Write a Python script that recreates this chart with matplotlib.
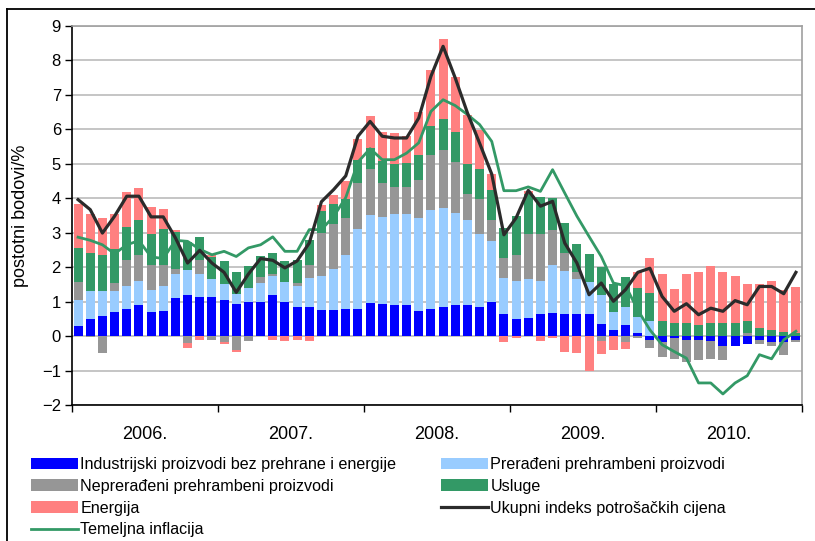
import numpy as np
import matplotlib.pyplot as plt
from matplotlib.lines import Line2D

plt.rcParams['font.family'] = ['Liberation Sans', 'DejaVu Sans']

# mjesečni doprinosi, 2006-01 .. 2010-12 (postotni bodovi)
years = ['2006.', '2007.', '2008.', '2009.', '2010.']
industrijski = [0.30, 0.50, 0.59, 0.71, 0.79, 0.91, 0.71, 0.74, 1.11, 1.20, 1.14, 1.14,
                1.06, 0.94, 1.00, 1.00, 1.20, 1.00, 0.85, 0.85, 0.76, 0.76, 0.79, 0.79,
                0.97, 0.94, 0.91, 0.91, 0.74, 0.79, 0.85, 0.91, 0.91, 0.85, 1.00, 0.65,
                0.50, 0.53, 0.65, 0.68, 0.65, 0.65, 0.65, 0.36, 0.18, 0.33, 0.10, -0.10,
                -0.17, -0.05, -0.10, -0.10, -0.13, -0.30, -0.30, -0.24, -0.10, -0.18, -0.18, -0.10]
preradjeni = [0.76, 0.82, 0.73, 0.61, 0.67, 0.70, 0.64, 0.72, 0.70, 0.73, 0.67, 0.52,
              0.46, 0.29, 0.41, 0.55, 0.55, 0.58, 0.61, 0.84, 0.99, 1.20, 1.57, 2.33,
              2.55, 2.53, 2.64, 2.64, 2.70, 2.88, 2.88, 2.67, 2.47, 2.12, 1.77, 1.04,
              1.11, 1.14, 0.96, 1.39, 1.25, 1.02, 0.93, 0.84, 0.53, 0.52, 0.46, 0.45,
              0.0, 0.0, 0.0, 0.0, 0.0, 0.0, 0.0, 0.0, 0.0, 0.0, 0.0, 0.0]
nepreradjeni = [0.52, -0.04, -0.50, 0.23, 0.76, 0.75, 0.72, 0.61, 0.15, -0.19, 0.41, -0.11,
                -0.18, -0.40, -0.15, 0.17, 0.06, 0.0, 0.09, 0.38, 1.24, 1.30, 1.08, 1.33,
                1.34, 0.98, 0.79, 0.79, 1.10, 1.60, 1.68, 1.48, 0.75, 1.02, 0.61, 0.58,
                0.75, 1.30, 1.36, 1.02, 0.52, 0.20, 0.0, -0.13, 0.0, -0.18, -0.05, -0.26,
                -0.45, -0.61, -0.65, -0.59, -0.53, -0.39, 0.0, 0.10, -0.12, -0.12, -0.38, -0.06]
usluge = [0.99, 1.10, 1.04, 0.99, 0.96, 1.02, 0.90, 1.05, 1.07, 0.81, 0.66, 0.63,
          0.67, 0.64, 0.61, 0.61, 0.61, 0.61, 0.67, 0.73, 0.65, 0.58, 0.55, 0.67,
          0.61, 0.64, 0.66, 0.69, 0.73, 0.84, 0.90, 0.85, 0.87, 0.87, 0.87, 0.88,
          1.13, 1.16, 1.08, 0.93, 0.87, 0.81, 0.81, 0.81, 0.81, 0.87, 0.84, 0.81,
          0.45, 0.39, 0.39, 0.33, 0.39, 0.39, 0.39, 0.35, 0.24, 0.18, 0.13, 0.10]
energija = [1.27, 1.13, 1.08, 1.01, 1.01, 0.93, 0.79, 0.58, 0.06, -0.17, -0.11, 0.07,
            -0.06, -0.05, 0.0, 0.0, -0.11, -0.15, -0.11, -0.15, 0.17, 0.26, 0.52, 0.61,
            0.93, 0.84, 0.88, 0.79, 1.22, 1.62, 2.30, 1.62, 1.43, 1.13, 0.46, -0.18,
            -0.05, 0.09, -0.15, -0.05, -0.45, -0.50, -1.00, -0.38, -0.39, -0.20, 0.47, 1.02,
            1.34, 0.99, 1.42, 1.54, 1.63, 1.48, 1.34, 1.07, 1.28, 1.42, 1.22, 1.33]
ukupni = [3.96, 3.67, 2.99, 3.48, 4.06, 4.06, 3.46, 3.46, 2.85, 2.12, 2.49, 2.12,
          1.85, 1.27, 1.80, 2.25, 2.20, 1.98, 2.18, 2.70, 3.90, 4.25, 4.65, 5.80,
          6.23, 5.80, 5.75, 5.75, 6.33, 7.54, 8.41, 7.49, 6.48, 5.60, 4.70, 2.94,
          3.43, 4.23, 3.77, 3.91, 2.70, 2.12, 1.20, 1.54, 1.01, 1.35, 1.85, 1.97,
          1.15, 0.72, 0.94, 0.62, 0.81, 0.72, 1.03, 0.91, 1.44, 1.44, 1.23, 1.85]
temeljna = [2.87, 2.78, 2.65, 2.39, 2.65, 2.77, 2.30, 2.25, 2.78, 2.75, 2.52, 2.36,
            2.46, 2.31, 2.56, 2.65, 2.88, 2.46, 2.46, 3.09, 3.09, 3.47, 4.02, 5.05,
            5.44, 5.12, 5.12, 5.31, 5.61, 6.52, 6.86, 6.69, 6.43, 6.14, 5.65, 4.22,
            4.22, 4.33, 4.20, 4.83, 4.15, 3.48, 2.89, 2.31, 1.54, 1.46, 0.76, 0.18,
            -0.25, -0.45, -0.64, -1.36, -1.36, -1.68, -1.36, -1.15, -0.54, -0.66, -0.11, 0.14]

serije = [(industrijski, '#0000FF', 'Industrijski proizvodi bez prehrane i energije'),
          (preradjeni, '#99CCFF', 'Prerađeni prehrambeni proizvodi'),
          (nepreradjeni, '#969696', 'Neprerađeni prehrambeni proizvodi'),
          (usluge, '#339966', 'Usluge'),
          (energija, '#FF8080', 'Energija')]

fig = plt.figure(figsize=(8.15, 5.41), dpi=100)
ax = fig.add_axes([72/815, 1-405/541, (802-72)/815, (405-26)/541])

x = np.arange(len(ukupni))
pos = np.zeros(len(x))
neg = np.zeros(len(x))
h = {}
for vals, col, lab in serije:
    v = np.array(vals)
    bottom = np.where(v >= 0, pos, neg)
    h[lab] = ax.bar(x, v, 0.74, bottom=bottom, color=col, label=lab, zorder=2)
    pos = pos + np.where(v > 0, v, 0)
    neg = neg + np.where(v < 0, v, 0)

l1, = ax.plot(x, ukupni, color='#2B2B2B', lw=2.3, zorder=4, label='Ukupni indeks potrošačkih cijena')
l2, = ax.plot(x, temeljna, color='#339966', lw=2.0, zorder=3, label='Temeljna inflacija')

ax.set_xlim(-0.5, 59.5)
ax.set_ylim(-2, 9)
ax.set_yticks(range(-2, 10))
ax.yaxis.grid(True, color='#C0C0C0', lw=1.3, zorder=0)
ax.set_axisbelow(True)
ax.tick_params(axis='y', direction='out', length=5, width=1, labelsize=12, pad=3)
ax.set_ylabel('postotni bodovi/%', fontsize=13, labelpad=9)

# godine: oznake na granicama, nazivi u sredini
ax.set_xticks(np.arange(-0.5, 60, 12))
ax.set_xticklabels([])
ax.set_xticks(np.arange(5.5, 60, 12), minor=True)
ax.set_xticklabels(years, minor=True, fontsize=13)
ax.tick_params(axis='x', which='major', direction='out', length=5, width=1)
ax.tick_params(axis='x', which='minor', length=0, pad=15)

ax.spines['left'].set_color('black')
ax.spines['bottom'].set_color('black')
ax.spines['top'].set_color('#A0A0A0')
ax.spines['right'].set_color('#A0A0A0')
for s in ax.spines.values():
    s.set_linewidth(1.2)

handles = [h[serije[0][2]], h[serije[2][2]], h[serije[4][2]], l2,
           h[serije[1][2]], h[serije[3][2]], l1]
labels = [serije[0][2], serije[2][2], serije[4][2], 'Temeljna inflacija',
          serije[1][2], serije[3][2], 'Ukupni indeks potrošačkih cijena']
fig.legend(handles, labels, ncol=2, loc='upper left', bbox_to_anchor=(31/815, 1-457/541),
           frameon=False, fontsize=11.6, handlelength=2.9, handleheight=0.7,
           handletextpad=0.15, columnspacing=2.8, labelspacing=0.42, borderpad=0,
           borderaxespad=0)

# okvir slike
fig.add_artist(Line2D([7/815, 1], [1-9/541, 1-9/541], transform=fig.transFigure, color='black', lw=1.3))
fig.add_artist(Line2D([7/815, 7/815], [0, 1-9/541], transform=fig.transFigure, color='black', lw=1.3))

fig.savefig('out.png', dpi=100)
